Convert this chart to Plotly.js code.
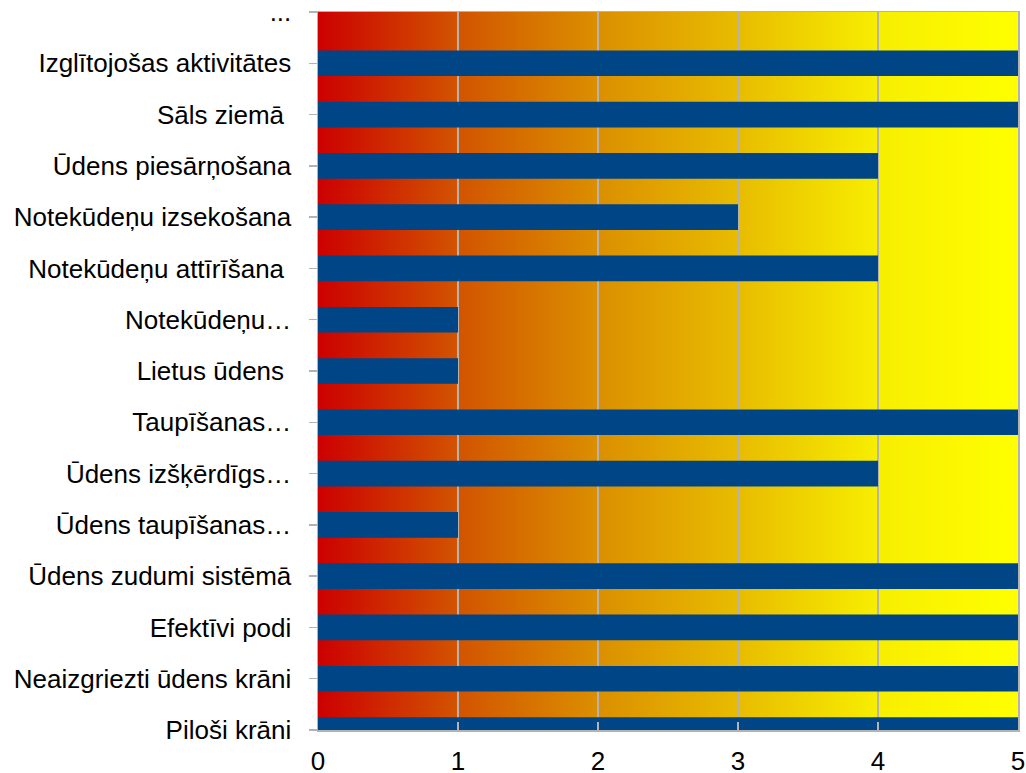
<!DOCTYPE html>
<html>
<head>
<meta charset="utf-8">
<script src="https://cdn.plot.ly/plotly-3.0.1.min.js"></script>
<style>html,body{margin:0;padding:0;background:#fff;}#chart{width:1026px;height:773px;}</style>
</head>
<body>
<div id="chart"></div>
<script>
const categories = [
  'Piloši krāni',
  'Neaizgriezti ūdens krāni',
  'Efektīvi podi',
  'Ūdens zudumi sistēmā',
  'Ūdens taupīšanas…',
  'Ūdens izšķērdīgs…',
  'Taupīšanas…',
  'Lietus ūdens\u00a0',
  'Notekūdeņu…',
  'Notekūdeņu attīrīšana\u00a0',
  'Notekūdeņu izsekošana',
  'Ūdens piesārņošana',
  'Sāls ziemā\u00a0',
  'Izglītojošas aktivitātes',
  '...'
];
const values = [5, 5, 5, 5, 1, 4, 5, 1, 1, 4, 3, 4, 5, 5, 0];
const xTicks = [0, 1, 2, 3, 4, 5];

const gradSvg = '<svg xmlns="http://www.w3.org/2000/svg" width="700" height="100" preserveAspectRatio="none">' +
  '<defs><linearGradient id="g" x1="0" y1="0" x2="1" y2="0">' +
  '<stop offset="0" stop-color="#cc0000"/>' +
  '<stop offset="0.2" stop-color="#d25400"/>' +
  '<stop offset="0.4" stop-color="#db8f00"/>' +
  '<stop offset="0.6" stop-color="#e8bc00"/>' +
  '<stop offset="0.8" stop-color="#f7ee00"/>' +
  '<stop offset="1" stop-color="#ffff00"/>' +
  '</linearGradient></defs><rect width="700" height="100" fill="url(#g)"/></svg>';
const gradUri = 'data:image/svg+xml;charset=utf-8,' + encodeURIComponent(gradSvg);

const trace = {
  type: 'bar',
  orientation: 'h',
  x: values,
  y: categories,
  marker: {color: '#004586', line: {width: 0}},
  hoverinfo: 'x+y'
};

const layout = {
  width: 1026,
  height: 773,
  margin: {l: 318, r: 8, t: 12, b: 43, pad: 0},
  paper_bgcolor: '#ffffff',
  plot_bgcolor: 'rgba(0,0,0,0)',
  showlegend: false,
  bargap: 0.5,
  font: {family: '"Liberation Sans", Arial, sans-serif', size: 26, color: '#000000'},
  images: [{
    source: gradUri,
    xref: 'paper', yref: 'paper',
    x: 0, y: 1, sizex: 1, sizey: 1,
    xanchor: 'left', yanchor: 'top',
    sizing: 'stretch',
    layer: 'below'
  }],
  xaxis: {
    range: [0, 5],
    tickvals: xTicks,
    ticktext: xTicks.map(String),
    showgrid: true,
    gridcolor: '#b3b3b3',
    gridwidth: 1.5,
    zeroline: false,
    showline: true,
    linecolor: '#b3b3b3',
    linewidth: 1.5,
    mirror: true,
    ticks: 'inside',
    ticklen: 8,
    tickcolor: '#b3b3b3',
    tickwidth: 1.5,
    ticklabelstandoff: 7,
    tickfont: {size: 26, color: '#000000'}
  },
  yaxis: {
    type: 'category',
    categoryorder: 'array',
    categoryarray: categories,
    range: [0, 14],
    showgrid: false,
    zeroline: false,
    showline: true,
    linecolor: '#b3b3b3',
    linewidth: 1.5,
    mirror: true,
    ticks: 'outside',
    ticklen: 8,
    tickcolor: '#b3b3b3',
    tickwidth: 1.5,
    ticklabelstandoff: 12,
    tickfont: {size: 26, color: '#000000'}
  }
};

Plotly.newPlot('chart', [trace], layout, {displayModeBar: false, staticPlot: true});
</script>
</body>
</html>
